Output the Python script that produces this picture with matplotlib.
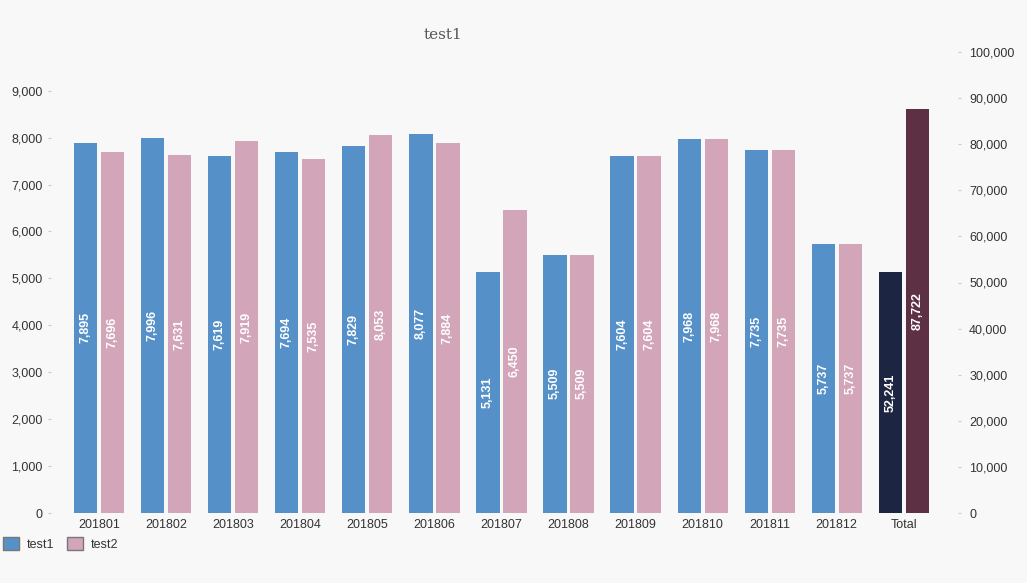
import matplotlib
matplotlib.use("Agg")
import matplotlib.pyplot as plt
from matplotlib.patches import Patch
import numpy as np

categories = ["201801", "201802", "201803", "201804", "201805", "201806",
              "201807", "201808", "201809", "201810", "201811", "201812"]
test1 = [7895, 7996, 7619, 7694, 7829, 8077, 5131, 5509, 7604, 7968, 7735, 5737]
test2 = [7696, 7631, 7919, 7535, 8053, 7884, 6450, 5509, 7604, 7968, 7735, 5737]
total_label = "Total"
total_test1 = 52241
total_test2 = 87722

BG = "#f8f8f8"
C1, C2 = "#5591c8", "#d3a5b9"
CT1, CT2 = "#1c2541", "#5e3044"
TXT = "#333333"

plt.rcParams['font.family'] = ['Liberation Sans', 'DejaVu Sans']
fig = plt.figure(figsize=(10.27, 5.83), dpi=100, facecolor=BG)
W, H = 1027, 583
ax = fig.add_axes([51 / W, (H - 513) / H, (958 - 51) / W, (513 - 52) / H])
ax.set_facecolor(BG)
ax2 = ax.twinx()

x = np.arange(len(categories))
bw = 0.345
off = 0.2015
b1 = ax.bar(x - off, test1, bw, color=C1)
b2 = ax.bar(x + off, test2, bw, color=C2)
xt = len(categories)
bt = ax2.bar([xt - off, xt + off], [total_test1, total_test2], bw, color=[CT1, CT2])

for bars, vals, a in [(b1, test1, ax), (b2, test2, ax), (bt, [total_test1, total_test2], ax2)]:
    for r, v in zip(bars, vals):
        a.text(r.get_x() + r.get_width() / 2, v / 2, f"{v:,}", rotation=90,
               ha="center", va="center", color="white", fontsize=9, fontweight="bold")

ax.set_xlim(-0.72, 12.81)
ax.set_ylim(0, 9825)
ax2.set_ylim(0, 100000)
ax.set_yticks(range(0, 9001, 1000))
ax.set_yticklabels([f"{v:,}" for v in range(0, 9001, 1000)])
ax2.set_yticks(range(0, 100001, 10000))
ax2.set_yticklabels([f"{v:,}" for v in range(0, 100001, 10000)])
ax.set_xticks(list(x) + [xt])
ax.set_xticklabels(categories + [total_label])

for a in (ax, ax2):
    for s in a.spines.values():
        s.set_visible(False)
    a.tick_params(axis="y", colors="#cccccc", labelcolor=TXT, labelsize=9, length=2, width=0.8)
ax.tick_params(axis="y", pad=4)
ax2.tick_params(axis="y", pad=6)
ax.tick_params(axis="x", length=0, labelcolor=TXT, labelsize=9, pad=4)

fig.text(443 / W, 1 - 35 / H, "test1", ha="center", va="center", fontsize=11,
         color="#555555", family=["DejaVu Serif"])

leg = fig.legend(handles=[Patch(facecolor=C1, edgecolor="#777777", label="test1"),
                          Patch(facecolor=C2, edgecolor="#777777", label="test2")],
                 loc="lower left", bbox_to_anchor=(-0.008, 0.036), ncol=2, frameon=False,
                 fontsize=9, labelcolor=TXT, handlelength=1.3, handleheight=1.3,
                 handletextpad=0.6, columnspacing=1.0)

fig.savefig("out.png", dpi=100, facecolor=BG)
